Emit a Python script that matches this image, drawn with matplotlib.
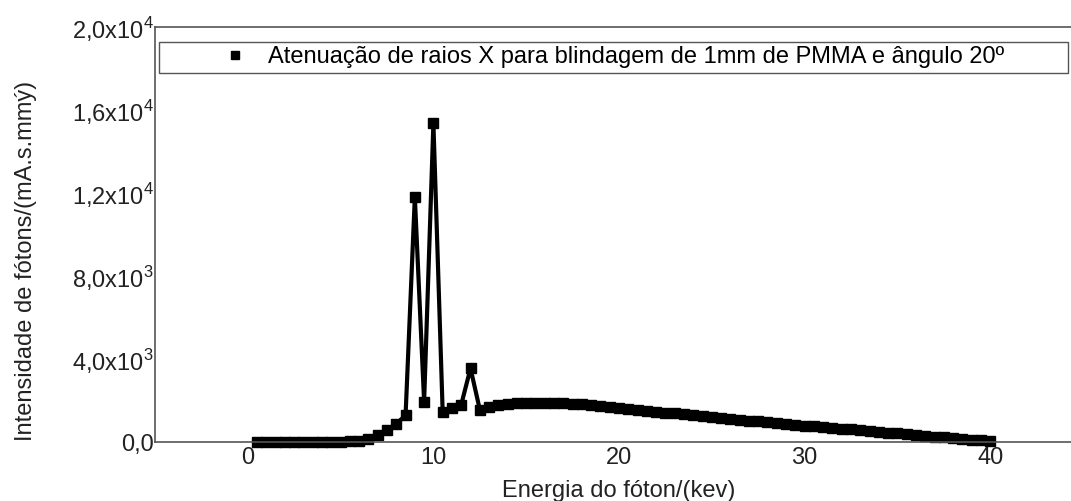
import matplotlib
matplotlib.use('Agg')
import matplotlib.pyplot as plt
from matplotlib.lines import Line2D

# energia (keV), passo de 0.5
energia = [0.5 * i for i in range(1, 81)]
intensidade = [
    0, 0, 0, 0, 0, 0, 0, 2, 5, 12,            # 0.5 - 5.0
    25, 60, 160, 330, 560, 880, 1280,          # 5.5 - 8.5
    11800, 1950, 15350, 1450, 1620, 1800,      # 9.0 - 11.5
    3550, 1560, 1680, 1760, 1820, 1860,        # 12.0 - 14.5
    1880, 1890, 1890, 1880, 1860, 1840,        # 15.0 - 17.5
    1810, 1770, 1730, 1690, 1640, 1600,        # 18.0 - 20.5
    1555, 1510, 1465, 1420, 1375, 1330,        # 21.0 - 23.5
    1285, 1240, 1195, 1150, 1110, 1070,        # 24.0 - 26.5
    1030, 990, 950, 910, 870, 830,             # 27.0 - 29.5
    790, 750, 710, 675, 640, 605,              # 30.0 - 32.5
    565, 530, 490, 455, 415, 380,              # 33.0 - 35.5
    340, 300, 265, 230, 190, 150,              # 36.0 - 38.5
    110, 75, 40,                               # 39.0 - 40.0
]
xticks = [0, 10, 20, 30, 40]
yticks = [0, 4000, 8000, 12000, 16000, 20000]
ytick_labels = ['0,0', r'4,0x10$^{\mathregular{3}}$', r'8,0x10$^{\mathregular{3}}$',
                r'1,2x10$^{\mathregular{4}}$', r'1,6x10$^{\mathregular{4}}$',
                r'2,0x10$^{\mathregular{4}}$']
legenda = 'Atenuação de raios X para blindagem de 1mm de PMMA e ângulo 20º'

plt.rcParams['font.family'] = ['Liberation Sans', 'DejaVu Sans']
plt.rcParams['mathtext.fontset'] = 'custom'
plt.rcParams['mathtext.rm'] = 'Liberation Sans'

fig = plt.figure(figsize=(10.71, 5.01), dpi=100)
ax = fig.add_axes([155 / 1071, 59 / 501, 928 / 1071, 415 / 501])

ax.plot(energia, intensidade, color='black', linewidth=3,
        marker='s', markersize=6.5, clip_on=False)

ax.set_xlim(-5, 45)
ax.set_ylim(0, 20000)
ax.set_xticks(xticks)
ax.set_yticks(yticks)
ax.set_yticklabels(ytick_labels)
ax.tick_params(labelsize=17, colors='#222222', length=0)
ax.tick_params(axis='y', pad=1)
ax.tick_params(axis='x', pad=3.5)
for s in ax.spines.values():
    s.set_color('#555555')
    s.set_linewidth(1.2)

ax.set_xlabel('Energia do fóton/(kev)', fontsize=17, color='#222222')
ax.set_ylabel('Intensidade de fótons/(mA.s.mmý)', fontsize=17, color='#222222')
ax.xaxis.set_label_coords(0.5, -0.092)
ax.yaxis.set_label_coords(-0.127, 0.436)

handle = Line2D([], [], color='black', marker='s', linestyle='none', markersize=6)
fig.legend([handle], [legenda], loc='upper left', mode='expand',
           bbox_to_anchor=(159 / 1071, 1 - 42 / 501, 909 / 1071, 0),
           fontsize=17, fancybox=False, edgecolor='#555555', framealpha=1,
           borderpad=0.19, handlelength=6.06, handletextpad=-1.63,
           borderaxespad=0)

fig.savefig('out.png', dpi=100)
